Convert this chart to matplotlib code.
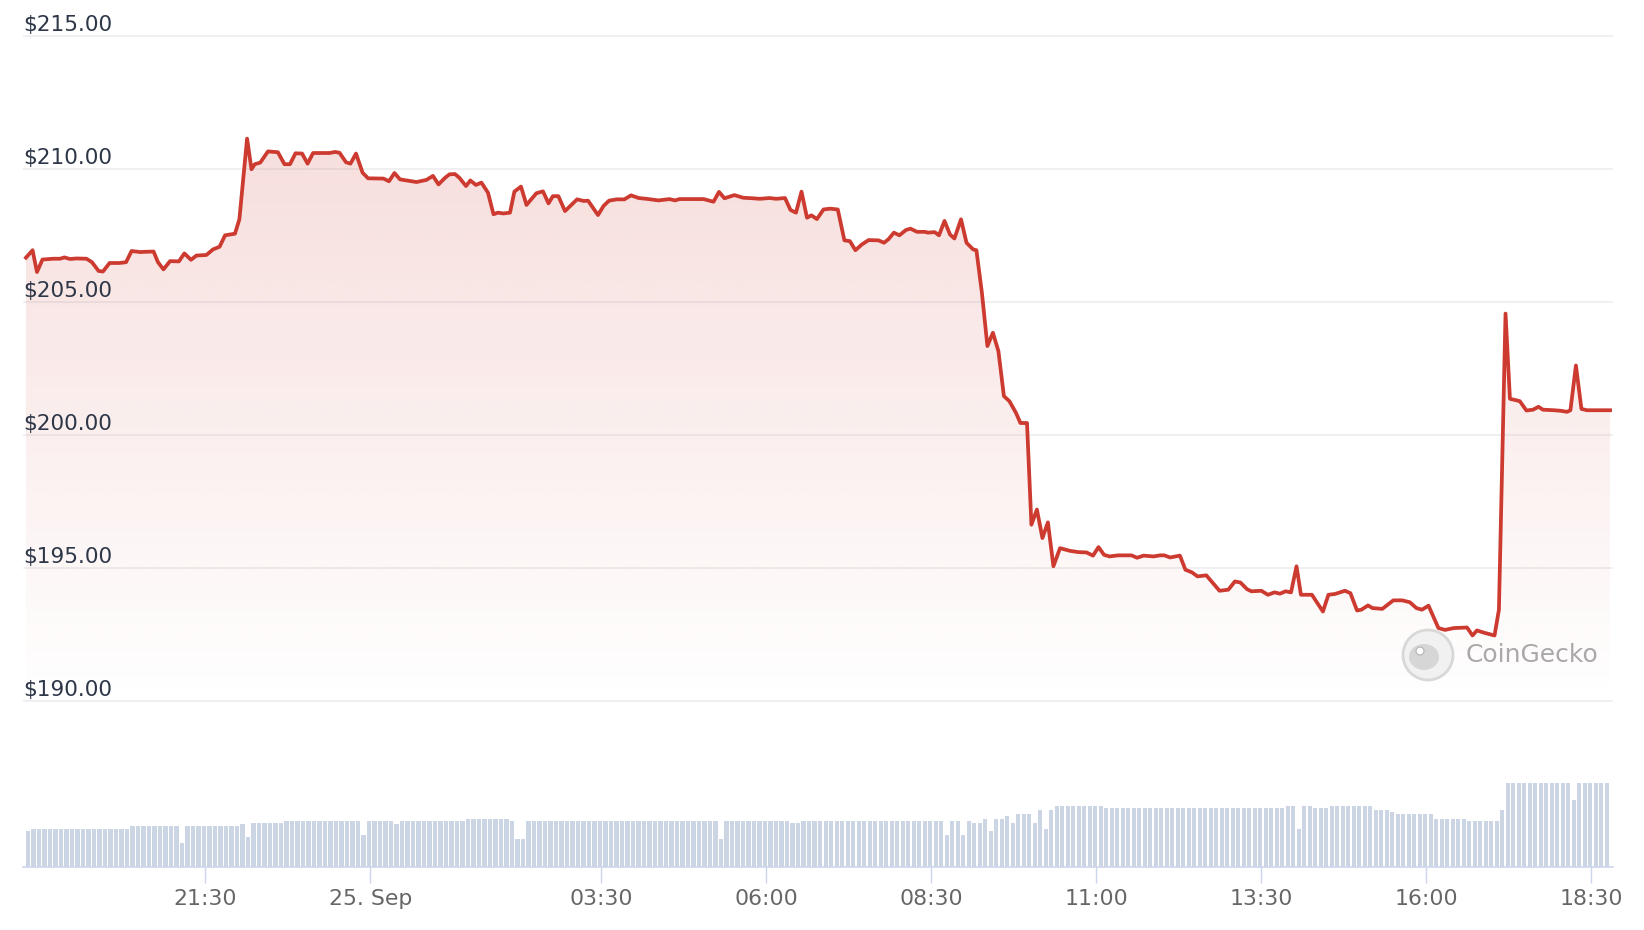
import numpy as np
import matplotlib
matplotlib.use("Agg")
import matplotlib.pyplot as plt
from matplotlib import transforms
from matplotlib.patches import Ellipse
from datetime import datetime

# 24h window, price (minutes after 24 Sep 18:47, USD)
start = datetime(2024, 9, 24, 18, 47)

price_minutes = [
    0, 6, 10, 15, 25, 31, 35, 40, 46, 55, 60, 66, 70, 76, 85, 91, 96, 104, 108, 116,
    120, 125, 131, 139, 144, 150, 155, 164, 170, 176, 181, 190, 194, 201, 205, 208, 213, 220, 229, 235,
    240, 245, 251, 256, 261, 276, 281, 285, 291, 295, 300, 306, 311, 325, 330, 335, 340, 355,
    364, 370, 375, 381, 385, 390, 394, 400, 404, 409, 414, 420, 425, 429, 434, 440, 444, 450, 455, 464,
    470, 475, 479, 484, 490, 501, 507, 511, 520, 525, 530, 537, 544, 550, 557, 564, 575, 585, 590, 594,
    607, 616, 625, 630, 635, 644, 652, 661, 667, 676, 682, 690, 695, 700, 705, 710, 714, 719, 725, 731, 738,
    744, 749, 754, 760, 766, 775, 780, 784, 789, 794, 800, 804, 810, 817, 820, 826, 830, 835, 840, 844,
    850, 855, 861, 864, 869, 874, 879, 884, 889, 894, 900, 904, 910, 914, 919, 924, 929, 934, 940, 949,
    957, 964, 970, 975, 980, 985, 993, 1005, 1010, 1016, 1025, 1031, 1035, 1040, 1049, 1054, 1060, 1065,
    1073, 1079, 1085, 1093, 1099,
    1104, 1110, 1114, 1123, 1129, 1135, 1140, 1145, 1150, 1155, 1159, 1169, 1179, 1184, 1190, 1199, 1204,
    1210, 1214, 1220, 1224, 1233, 1243, 1251, 1258, 1264, 1269, 1275, 1284, 1290, 1298, 1310, 1315, 1319,
    1325, 1335, 1339, 1345, 1349, 1358, 1364, 1370, 1375, 1379, 1389, 1395, 1401, 1404, 1409, 1414, 1419, 1440,
]
prices = [
    206.66, 206.94, 206.12, 206.59, 206.62, 206.62, 206.67, 206.61, 206.63, 206.62, 206.49, 206.16, 206.14,
    206.46, 206.46, 206.49, 206.91, 206.87, 206.88, 206.89,
    206.49, 206.22, 206.53, 206.52, 206.82, 206.58, 206.74, 206.76, 206.97, 207.07, 207.50, 207.56, 208.10,
    211.13, 209.98, 210.17, 210.23, 210.65, 210.62, 210.17,
    210.17, 210.58, 210.57, 210.19, 210.59, 210.59, 210.63, 210.60, 210.24, 210.19, 210.57, 209.85, 209.64,
    209.63, 209.53, 209.84, 209.60, 209.50,
    209.58, 209.73, 209.41, 209.66, 209.79, 209.80, 209.66, 209.35, 209.56, 209.39, 209.48, 209.10, 208.29,
    208.35, 208.32, 208.35, 209.14, 209.33, 208.64, 209.08,
    209.15, 208.70, 208.97, 208.97, 208.41, 208.85, 208.79, 208.80, 208.26, 208.60, 208.80, 208.85, 208.85,
    209.00, 208.90, 208.87, 208.81, 208.86, 208.81, 208.86,
    208.86, 208.86, 208.76, 209.13, 208.89, 209.01, 208.91, 208.89, 208.87, 208.90, 208.87, 208.90, 208.45,
    208.35, 209.14, 208.16, 208.25, 208.11, 208.47, 208.50, 208.47,
    207.31, 207.28, 206.94, 207.16, 207.32, 207.31, 207.22, 207.35, 207.60, 207.50, 207.70, 207.75, 207.63,
    207.63, 207.60, 207.62, 207.50, 208.04, 207.53, 207.38,
    208.10, 207.22, 206.97, 206.94, 205.34, 203.34, 203.84, 203.15, 201.46, 201.27, 200.83, 200.45, 200.45,
    196.63, 197.20, 196.13, 196.72, 195.07, 195.75, 195.65,
    195.60, 195.59, 195.47, 195.79, 195.50, 195.44, 195.48, 195.48, 195.39, 195.47, 195.44, 195.48, 195.48,
    195.40, 195.47, 194.94, 194.84, 194.69,
    194.73, 194.44, 194.15, 194.19, 194.50,
    194.46, 194.21, 194.13, 194.15, 194.00, 194.09, 194.04, 194.13, 194.09, 195.07, 194.00, 194.00, 193.37,
    194.00, 194.03, 194.15, 194.06,
    193.41, 193.44, 193.60, 193.50, 193.47, 193.79, 193.79, 193.72, 193.50, 193.44, 193.59, 192.75, 192.68,
    192.75, 192.77, 192.47, 192.66,
    192.58, 192.47, 193.44, 204.56, 201.36, 201.27, 200.92, 200.95, 201.06, 200.95, 200.93, 200.91, 200.87,
    200.93, 202.61, 200.98, 200.93, 200.93,
]

# 5-minute volume bars (relative units), stored as runs of equal height
vol_levels = [36, 38, 40.5, 24, 40.5, 42.6, 30, 44.3, 46.4, 32.4, 46.4, 42.6, 46.4, 48.4, 46.4, 27.8,
              46.4, 27.8, 46.4, 44.3, 46.4, 32.4, 46.4, 32.4, 46.4, 44.3, 48.4, 36, 48.4, 50.5, 44.3,
              52.6, 44.3, 56.7, 38, 56.7, 60.8, 58.8, 60.8, 38, 60.8, 58.8, 60.8, 56.7, 54.6, 52.6,
              48.4, 46.4, 56.7, 83.6, 67, 83.6]
vol_counts = [1, 18, 9, 1, 10, 1, 1, 6, 14, 1, 5, 1, 12, 8, 1, 2,
              35, 1, 12, 2, 26, 1, 2, 1, 1, 2, 1, 1, 2, 1, 1,
              3, 1, 1, 1, 1, 9, 33, 2, 1, 2, 3, 8, 3, 1, 7,
              6, 6, 1, 12, 1, 6]

tick_times = [datetime(2024, 9, 24, 21, 30), datetime(2024, 9, 25, 0, 0), datetime(2024, 9, 25, 3, 30),
              datetime(2024, 9, 25, 6, 0), datetime(2024, 9, 25, 8, 30), datetime(2024, 9, 25, 11, 0),
              datetime(2024, 9, 25, 13, 30), datetime(2024, 9, 25, 16, 0), datetime(2024, 9, 25, 18, 30)]
tick_labels = ["21:30", "25. Sep", "03:30", "06:00", "08:30", "11:00", "13:30", "16:00", "18:30"]

price_ticks = [190, 195, 200, 205, 210, 215]

RED = "#cc3a30"
plt.rcParams["font.family"] = ["DejaVu Sans"]

W, H = 1644, 930


def box(x0, y0, x1, y1):
    # pixel box (top-left origin) -> figure fraction rect
    return [x0 / W, 1 - y1 / H, (x1 - x0) / W, (y1 - y0) / H]


fig = plt.figure(figsize=(W / 100, H / 100), dpi=100)
ax = fig.add_axes(box(23, 30, 1613, 705))
ax_vol = fig.add_axes(box(23, 770, 1613, 867))

xlo, xhi = -2.7, 1442.7
ylo, yhi = 189.86, 215.21

# price panel
for v in price_ticks:
    ax.axhline(v, color="#eeeef0", lw=1.2, zorder=0)

poly = ax.fill_between(price_minutes, prices, ylo, facecolor="none", edgecolor="none")
grad = np.zeros((256, 1, 4))
grad[..., :3] = matplotlib.colors.to_rgb(RED)
grad[..., 3] = np.linspace(0.2, 0.0, 256)[:, None]
im = ax.imshow(grad, extent=[xlo, xhi, ylo, yhi], aspect="auto", origin="upper",
               interpolation="bilinear", zorder=1)
im.set_clip_path(poly.get_paths()[0], ax.transData)

ax.plot(price_minutes, prices, color=RED, lw=2.7, solid_joinstyle="round", zorder=3)

ax.set_xlim(xlo, xhi)
ax.set_ylim(ylo, yhi)
ax.set_xticks([])
ax.set_yticks([])
for s in ax.spines.values():
    s.set_visible(False)

lab_tr = transforms.offset_copy(ax.get_yaxis_transform(), fig=fig, y=3.6, units="points")
for v in price_ticks:
    ax.text(0, v, "\\$" + f"{v:.2f}", transform=lab_tr, ha="left", va="baseline",
            fontsize=15.6, color="#2d3748")

# volume panel
vol = np.repeat(vol_levels, vol_counts)
bar_left = np.arange(len(vol)) * 5
ax_vol.bar(bar_left, vol, width=3.7, align="edge", color="#ccd5e3", linewidth=0)
ax_vol.set_xlim(xlo, xhi)
ax_vol.set_ylim(0, max(vol) * 1.16)
ax_vol.set_yticks([])
for name, s in ax_vol.spines.items():
    s.set_visible(name == "bottom")
ax_vol.spines["bottom"].set_color("#ccd6eb")
ax_vol.spines["bottom"].set_linewidth(1.2)

tick_pos = [(t - start).total_seconds() / 60 for t in tick_times]
ax_vol.set_xticks(tick_pos)
ax_vol.set_xticklabels(tick_labels)
ax_vol.tick_params(axis="x", length=11.5, width=1, color="#ccd6eb", pad=4,
                   labelsize=15.8, labelcolor="#666666")

# CoinGecko watermark
fig.add_artist(Ellipse((1428 / W, 1 - 655 / H), 50 / W, 50 / H, transform=fig.transFigure,
                       facecolor="#f1f1f1", edgecolor="#d8d8d8", lw=2, zorder=5))
fig.add_artist(Ellipse((1424 / W, 1 - 657 / H), 30 / W, 26 / H, transform=fig.transFigure,
                       facecolor="#d6d6d6", edgecolor="none", zorder=6))
fig.add_artist(Ellipse((1420 / W, 1 - 651 / H), 8 / W, 8 / H, transform=fig.transFigure,
                       facecolor="white", edgecolor="#bcbcbc", lw=1, zorder=7))
fig.text(1466 / W, 1 - 655 / H, "CoinGecko", fontsize=18, color="#a9a9a9",
         ha="left", va="center", zorder=8)

fig.savefig("out.png", dpi=100, facecolor="white")
